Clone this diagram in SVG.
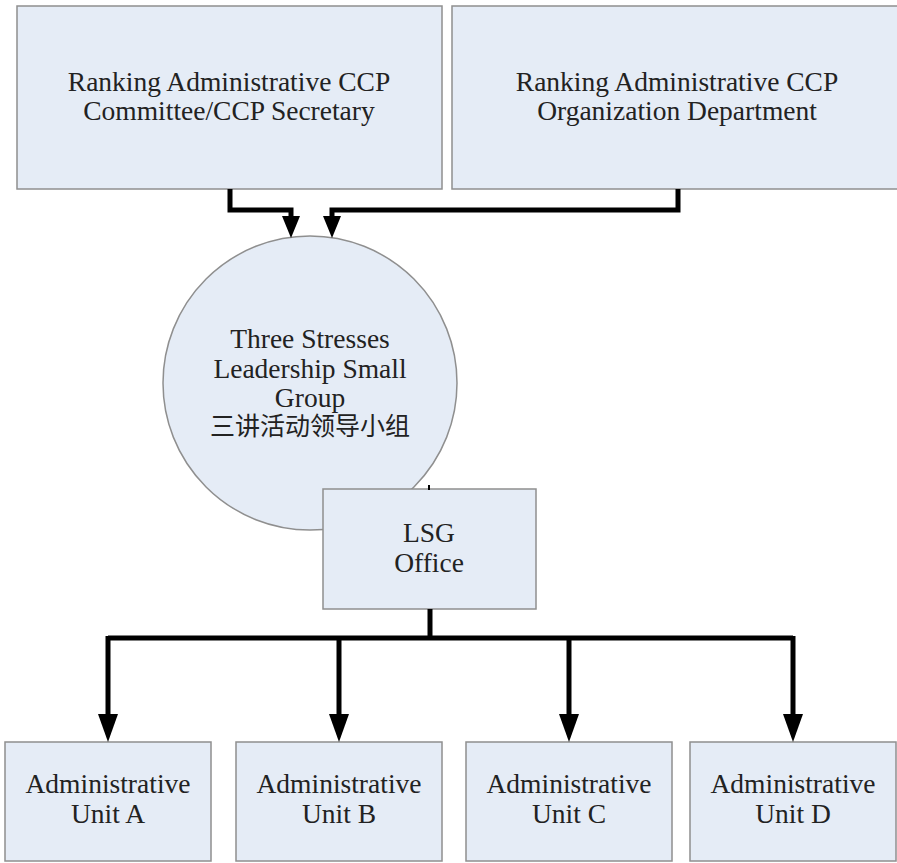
<svg xmlns="http://www.w3.org/2000/svg" width="897" height="863" viewBox="0 0 897 863">
<defs>
<style>
.n{fill:#e5ecf6;stroke:#8f8f8f;stroke-width:1.5}
.t{font-family:"Liberation Serif","Noto Sans CJK SC",serif;font-size:27.5px;fill:#222;text-anchor:middle}
.c{fill:none;stroke:#000;stroke-width:5}
</style>
<marker id="ah" viewBox="0 0 28 20" refX="0" refY="10" markerWidth="28" markerHeight="20" markerUnits="userSpaceOnUse" orient="auto">
<path d="M0,0 L28,10 L0,20 Z" fill="#000"/>
</marker>
<marker id="ahs" viewBox="0 0 22 18" refX="0" refY="9" markerWidth="22" markerHeight="18" markerUnits="userSpaceOnUse" orient="auto">
<path d="M0,0 L22,9 L0,18 Z" fill="#000"/>
</marker>
</defs>
<rect width="897" height="863" fill="#fff"/>
<g id="committee"><rect class="n" x="17" y="6" width="425" height="183"/>
<text class="t" x="229" y="91">Ranking Administrative CCP</text>
<text class="t" x="229" y="120">Committee/CCP Secretary</text></g>
<g id="orgdept"><rect class="n" x="452" y="6" width="450" height="183"/>
<text class="t" x="677" y="91">Ranking Administrative CCP</text>
<text class="t" x="677" y="120">Organization Department</text></g>
<g id="lsg"><circle class="n" cx="310" cy="383" r="147"/>
<text class="t" x="310" y="348">Three Stresses</text>
<text class="t" x="310" y="378">Leadership Small</text>
<text class="t" x="310" y="407">Group</text>
<text class="t" x="310" y="435" style="font-size:25px">三讲活动领导小组</text></g>
<g id="office"><rect class="n" x="323" y="489" width="213" height="120"/>
<text class="t" x="429" y="542">LSG</text>
<text class="t" x="429" y="572">Office</text></g>
<g id="unitA"><rect class="n" x="5" y="742" width="206" height="119"/>
<text class="t" x="108" y="793">Administrative</text><text class="t" x="108" y="823">Unit A</text></g>
<g id="unitB"><rect class="n" x="236" y="742" width="206" height="119"/>
<text class="t" x="339" y="793">Administrative</text><text class="t" x="339" y="823">Unit B</text></g>
<g id="unitC"><rect class="n" x="466" y="742" width="206" height="119"/>
<text class="t" x="569" y="793">Administrative</text><text class="t" x="569" y="823">Unit C</text></g>
<g id="unitD"><rect class="n" x="690" y="742" width="206" height="119"/>
<text class="t" x="793" y="793">Administrative</text><text class="t" x="793" y="823">Unit D</text></g>
<g id="connectors">
<path class="c" d="M230,189 V210 H291 V216" marker-end="url(#ahs)"/>
<path class="c" d="M678,189 V210 H332 V216" marker-end="url(#ahs)"/>
<path d="M429,485 V490" stroke="#000" stroke-width="2"/>
<path class="c" d="M430,609 V638"/>
<path class="c" d="M108,638 H793"/>
<path class="c" d="M108,636 V714" marker-end="url(#ah)"/>
<path class="c" d="M339,638 V714" marker-end="url(#ah)"/>
<path class="c" d="M569,638 V714" marker-end="url(#ah)"/>
<path class="c" d="M793,636 V714" marker-end="url(#ah)"/>
</g>
</svg>
